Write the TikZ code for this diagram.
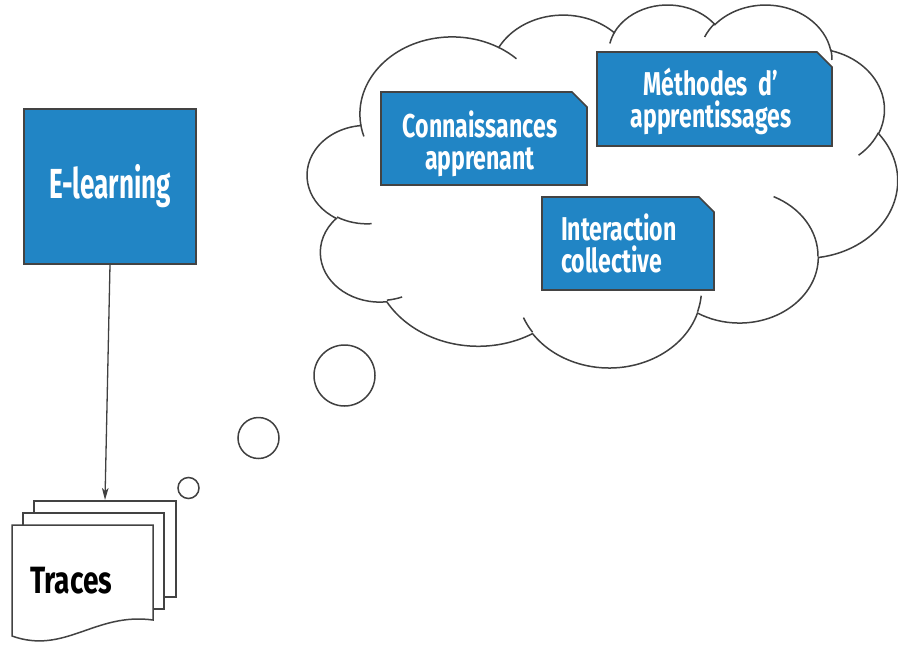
\documentclass[tikz,border=0pt]{standalone}
\usepackage{fontspec}
\usetikzlibrary{arrows.meta}
\newfontfamily\oswA{Fira Sans}[FakeStretch=0.62]
\newfontfamily\oswB{Fira Sans}[FakeStretch=0.70]
\newfontfamily\oswC{Fira Sans}[FakeStretch=0.74]
\definecolor{boxblue}{RGB}{33,133,197}
\definecolor{edgegray}{RGB}{67,67,67}
\definecolor{lineg}{RGB}{64,64,64}
\tikzset{
 ooa/.style n args={4}{insert path={arc[x radius=#1, y radius=#2,
   start angle={atan2(#1*sin(#3),#2*cos(#3))},
   delta angle={mod(atan2(#1*sin(#3+#4),#2*cos(#3+#4))-atan2(#1*sin(#3),#2*cos(#3))+720,360)}]}},
 cloudline/.style={draw=lineg, line width=1.5pt},
 bluebox/.style={draw=edgegray, line width=1.6pt, fill=boxblue, text=white, inner sep=0pt},
 boxtext/.style={text=white, inner sep=0pt, font=\oswB\bfseries\fontsize{33}{32}\selectfont, anchor=base},
 docline/.style={draw=edgegray, line width=1.5pt, fill=white},
 arrowline/.style={draw=lineg, line width=1.3pt, -{Stealth[length=12pt,width=6.5pt,inset=3pt]}},
}
% snipped box: left, top, right, bottom
\newcommand\snipbox[4]{\draw[bluebox] (#1,#2) -- ({#3-15},#2) -- (#3,{#2+15}) -- (#3,#4) -- (#1,#4) -- cycle;}
\begin{document}
\begin{tikzpicture}[x=1pt,y=-1pt]
\useasboundingbox (0,0) rectangle (898,646);
\fill[white] (0,0) rectangle (898,646);

% cloud
\begin{scope}[shift={(307.5,3.8)}, x=1.3657pt, y=-0.840pt]
\draw[cloudline, fill=white] (39.00,143.70)
 [ooa={67.53}{91.90}{-190.4875}{123.7805}]
 [ooa={53.33}{72.67}{-144.1024}{89.9452}]
 [ooa={43.65}{59.45}{-145.8079}{99.7230}]
 [ooa={48.57}{65.95}{-130.9861}{117.2417}]
 [ooa={53.33}{72.73}{-78.7089}{109.0269}]
 [ooa={67.75}{92.20}{-46.2673}{130.2690}]
 [ooa={57.85}{78.67}{0.6250}{114.0333}]
 [ooa={67.52}{92.15}{22.4516}{115.1726}]
 [ooa={77.20}{105.43}{66.2426}{75.7110}]
 [ooa={43.60}{59.18}{-274.9421}{146.7356}]
 [ooa={43.45}{59.45}{-246.8285}{152.5189}]
 -- cycle;
\draw[cloudline]
 (46.93,261.77) [ooa={43.45}{59.45}{86.742}{26.4295}]
 (69.28,348.99) [ooa={43.60}{59.18}{73.6105}{11.4475}]
 (164.78,390.90) [ooa={67.52}{92.15}{137.6242}{14.0811}]
 (288.27,347.51) [ooa={67.52}{92.15}{6.4533}{15.9984}]
 (341.29,229.54) [ooa={57.85}{78.67}{-70.2924}{70.9174}]
 (417.98,153.54) [ooa={53.33}{72.73}{30.3180}{27.7515}]
 (383.24,54.26) [ooa={48.57}{65.95}{-13.7443}{14.8589}]
 (290.78,39.52) [ooa={48.57}{65.95}{-149.1815}{18.1954}]
 (221.41,47.20) [ooa={43.65}{59.45}{-163.4943}{17.6864}]
 (140.00,51.92) [ooa={67.53}{91.90}{-66.7070}{12.3194}]
 (41.27,157.89) [ooa={67.53}{91.90}{157.6544}{11.8582}];
\end{scope}

% thought bubbles
\draw[cloudline] (344.5,375.5) circle[radius=30.5];
\draw[cloudline] (258.5,438) circle[radius=20.5];
\draw[cloudline] (188.5,488) circle[radius=10.5];

% boxes in the cloud
\snipbox{381}{92}{587}{185}
\node[boxtext, text width=200pt, align=center] (conn) at (480,137) {Connaissances\\apprenant};
\snipbox{597}{52}{832}{146}
\node[boxtext, text width=230pt, align=center] (meth) at (711,95) {Méthodes d’\\apprentissages};
\snipbox{542}{197}{714}{290}
\node[boxtext, text width=134pt, align=left] (inter) at (628,240) {Interaction\\collective};

% E-learning
\node[bluebox, rectangle, minimum width=172pt, minimum height=155pt,
  font=\oswA\bfseries\fontsize{42}{44}\selectfont, text height=30pt, text depth=7pt]
  (elearn) at (110,186.5) {E-learning};

% documents
\draw[docline] (34,501) rectangle (176,597);
\draw[docline] (23,513) rectangle (164,609);
\draw[docline] (12,525) -- (153,525) -- (153,620)
  .. controls (95,612) and (65,655) .. (12,636) -- cycle;
\node[font=\oswC\bfseries\fontsize{38}{40}\selectfont, anchor=base west, inner sep=0pt]
  (traces) at (30,593) {Traces};

\coordinate (doctop) at (105,500);
\draw[arrowline] (elearn.south) -- (doctop);
\end{tikzpicture}
\end{document}
